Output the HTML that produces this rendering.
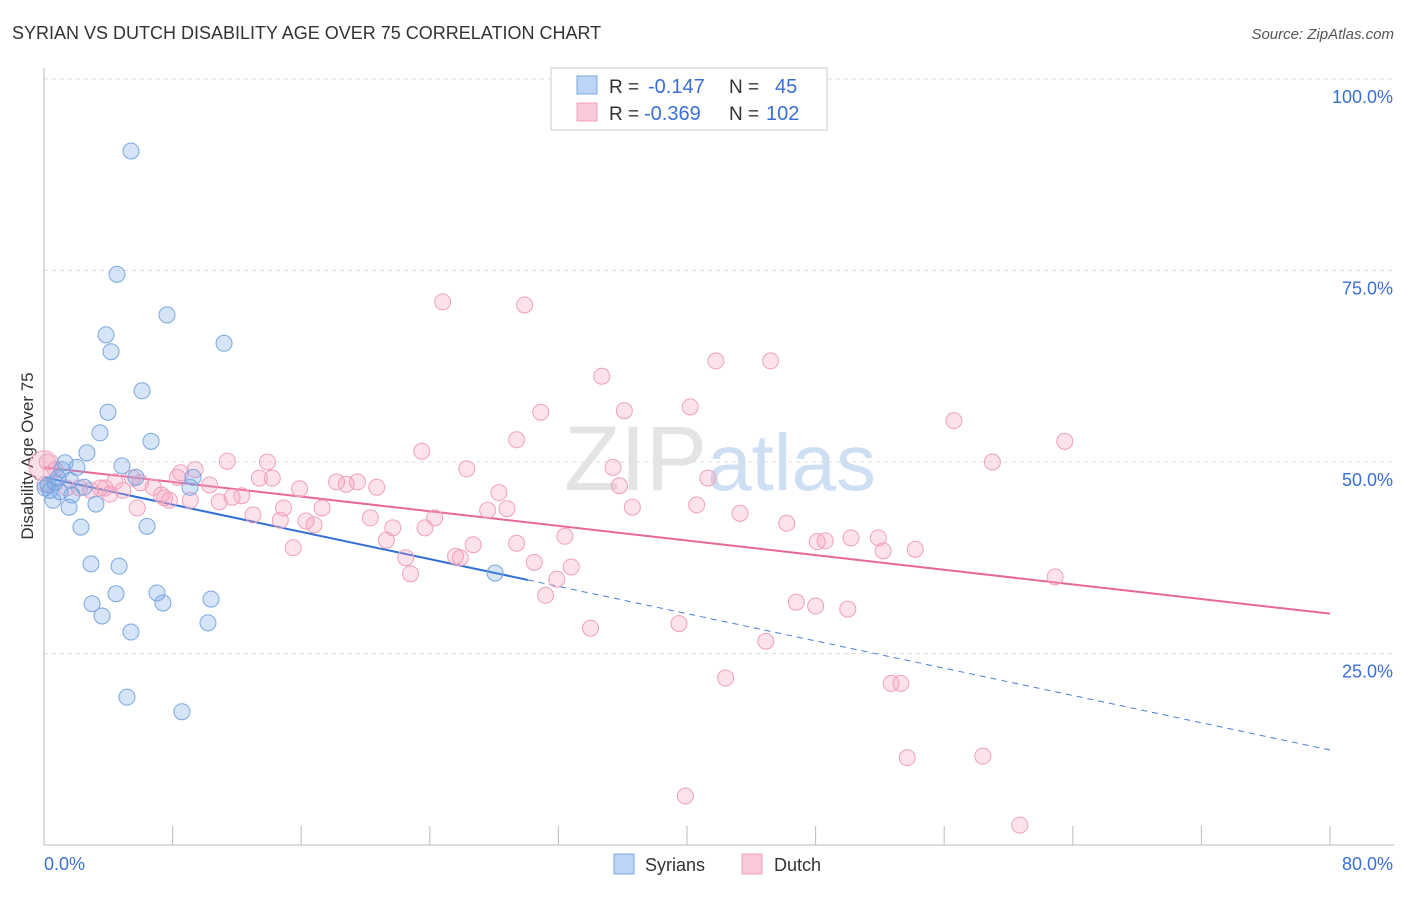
<!DOCTYPE html>
<html><head><meta charset="utf-8"><style>
body{margin:0;background:#fff;font-family:"Liberation Sans",sans-serif}
svg text{font-family:"Liberation Sans",sans-serif}
</style></head><body>
<svg id="chart" width="1406" height="892" xmlns="http://www.w3.org/2000/svg">
<text x="12" y="39" font-size="18" fill="#333">SYRIAN VS DUTCH DISABILITY AGE OVER 75 CORRELATION CHART</text>
<text x="1394" y="39" font-size="15" fill="#555" font-style="italic" text-anchor="end">Source: ZipAtlas.com</text>
<text x="720" y="490" font-size="92" text-anchor="middle" fill="#e4e4e4" font-family="Liberation Serif"><tspan>ZIP</tspan><tspan fill="#cfdff3" font-family="Liberation Sans" font-size="80">atlas</tspan></text>
<text transform="translate(33,456) rotate(-90)" font-size="17" fill="#333" text-anchor="middle">Disability Age Over 75</text>
<g id="grid"></g><g id="axes"></g><g id="trends"></g><g id="points"></g>
<g>
<rect x="551" y="68" width="276" height="62" fill="#fff" stroke="#ccc"/>
<rect x="577" y="76" width="20" height="18" fill="#bcd4f5" stroke="#7aa7e0"/>
<rect x="577" y="103" width="20" height="18" fill="#f9c9d7" stroke="#f0a0bb"/>
<text x="609" y="93" font-size="19" fill="#333">R =</text>
<text x="648" y="93" font-size="20" fill="#3a6fd8">-0.147</text>
<text x="729" y="93" font-size="19" fill="#333">N =</text>
<text x="775" y="93" font-size="20" fill="#3a6fd8">45</text>
<text x="609" y="120" font-size="19" fill="#333">R =</text>
<text x="644" y="120" font-size="20" fill="#3a6fd8">-0.369</text>
<text x="729" y="120" font-size="19" fill="#333">N =</text>
<text x="766" y="120" font-size="20" fill="#3a6fd8">102</text>
</g>
<g>
<rect x="614" y="854" width="20" height="20" fill="#bcd4f5" stroke="#7aa7e0"/>
<text x="645" y="871" font-size="18" fill="#333">Syrians</text>
<rect x="742" y="854" width="20" height="20" fill="#f9c9d7" stroke="#f0a0bb"/>
<text x="774" y="871" font-size="18" fill="#333">Dutch</text>
</g>
</svg>
<script>
const syrX=[5.41,4.54,7.65,3.86,4.17,11.2,6.10,3.98,3.48,6.66,2.67,1.31,2.05,4.85,5.72,9.27,0.87,0.68,2.49,0.37,1.0,1.74,0.56,3.23,1.56,9.08,2.30,6.41,2.92,4.67,7.03,4.48,7.40,2.99,10.39,3.61,5.41,10.2,5.16,8.58,28.06,0.06,0.25,1.12,1.62];
const syrY=[90.6,74.5,69.2,66.6,64.4,65.5,59.3,56.5,53.8,52.7,51.2,49.9,49.3,49.5,48.0,48.0,47.9,47.3,46.7,46.3,46.1,45.7,45.0,44.5,44.1,46.7,41.5,41.6,36.7,36.4,32.9,32.8,31.6,31.5,32.1,29.9,27.8,29.0,19.3,17.4,35.5,46.6,47.0,49.0,47.6];
const dutX=[24.8,29.9,41.8,45.2,34.7,40.2,30.9,36.1,56.6,29.4,63.5,23.5,11.4,13.9,59.0,26.3,35.4,8.5,41.3,13.4,14.2,8.3,18.2,19.5,20.7,18.8,35.8,28.3,15.9,10.3,6.8,4.9,3.8,2.9,2.2,5.5,12.3,11.7,7.3,7.8,10.9,9.1,14.9,17.3,5.8,13.0,36.6,40.6,43.3,27.6,28.8,24.3,20.3,16.3,16.8,46.2,32.4,21.7,23.7,21.3,26.7,29.4,50.2,51.9,48.6,48.1,52.2,54.2,15.5,22.5,25.6,25.9,30.5,32.8,31.9,22.8,62.9,31.2,46.8,48.0,50.0,34.0,39.5,44.9,42.4,52.7,53.3,53.7,58.4,39.9,60.7,0.2,0.7,1.4,0.06,4.1,3.5,4.4,6.0,9.4,7.5,14.7];
const dutY=[70.9,70.5,63.2,63.2,61.2,57.2,56.5,56.7,55.4,52.9,52.7,51.4,50.1,50.0,50.0,49.1,49.3,48.6,47.9,47.9,47.9,48.0,47.4,47.4,46.7,47.1,46.9,46.0,46.5,47.0,46.7,46.3,46.6,46.3,46.6,47.9,45.6,45.4,45.7,45.0,44.8,45.0,44.0,44.0,44.0,43.1,44.1,44.4,43.3,43.7,43.9,42.7,42.7,42.3,41.8,42.0,40.3,41.4,41.4,39.8,39.2,39.4,40.1,40.1,39.7,39.6,38.4,38.6,38.8,37.5,37.7,37.5,36.9,36.3,34.7,35.4,35.0,32.6,31.7,31.2,30.8,28.3,28.9,26.6,21.8,21.1,21.1,11.4,11.6,6.4,2.6,50.0,49.0,46.6,47.1,45.8,46.6,47.4,47.3,49.0,45.3,42.4];
const yTicks=[25,50,75,100];
const yTickLabels=["25.0%","50.0%","75.0%","100.0%"];
const xTicks=[0,8,16,24,32,40,48,56,64,72,80];
const syrTrend=[48.0,12.4];
const syrSolidEnd=30.1;
const dutTrend=[49.3,30.2];
const NS="http://www.w3.org/2000/svg";
const X=v=>44+v*16.075, Y=v=>845-v*7.66;
function mk(t,a,p){const e=document.createElementNS(NS,t);for(const k in a)e.setAttribute(k,a[k]);p.appendChild(e);return e;}
const grid=document.getElementById('grid'),axes=document.getElementById('axes'),tr=document.getElementById('trends'),pts=document.getElementById('points');
yTicks.forEach((v,i)=>{
 const l=mk('line',{x1:44,x2:1394,y1:Y(v),y2:Y(v),stroke:'#ddd','stroke-dasharray':'4,4'},grid);
 
 
 const t=mk('text',{x:1393,y:Y(v)+24,'font-size':18,fill:'#3a6fd8','text-anchor':'end'},axes);
 t.textContent=yTickLabels[i];
 
 
});
const ax=mk('line',{x1:44,x2:44,y1:68,y2:845,stroke:'#bbb'},axes);


const bx=mk('line',{x1:44,x2:1394,y1:845,y2:845,stroke:'#bbb'},axes);


xTicks.forEach(v=>{const t=mk('line',{x1:X(v),x2:X(v),y1:826,y2:845,stroke:'#bbb'},axes);
 
 });
const xl0=mk('text',{x:44,y:870,'font-size':18,fill:'#3a6fd8'},axes);xl0.textContent='0.0%';


const xl1=mk('text',{x:1393,y:870,'font-size':18,fill:'#3a6fd8','text-anchor':'end'},axes);xl1.textContent='80.0%';


const big=mk('circle',{cx:X(0),cy:Y(49.5),r:15,fill:'rgba(240,150,180,0.3)',stroke:'#f0a0bb'},pts);


dutX.forEach((x,i)=>{const c=mk('circle',{cx:X(x),cy:Y(dutY[i]),r:8,fill:'rgba(245,160,190,0.3)',stroke:'#f0a0bb','stroke-width':1},pts);
 
 });
syrX.forEach((x,i)=>{const c=mk('circle',{cx:X(x),cy:Y(syrY[i]),r:8,fill:'rgba(120,165,230,0.3)',stroke:'#7aa7e0','stroke-width':1},pts);
 
 });
const sy=x=>syrTrend[0]+(syrTrend[1]-syrTrend[0])*x/80;
const s1=mk('line',{x1:X(0),y1:Y(sy(0)),x2:X(syrSolidEnd),y2:Y(sy(syrSolidEnd)),stroke:'#2f6fd6','stroke-width':2},tr);


const s2=mk('line',{x1:X(syrSolidEnd),y1:Y(sy(syrSolidEnd)),x2:X(80),y2:Y(sy(80)),stroke:'#4a7fd8','stroke-width':1,'stroke-dasharray':'6,5'},tr);


const d1=mk('line',{x1:X(0),y1:Y(dutTrend[0]),x2:X(80),y2:Y(dutTrend[1]),stroke:'#e8679a','stroke-width':2},tr);


</script>
</body></html>
